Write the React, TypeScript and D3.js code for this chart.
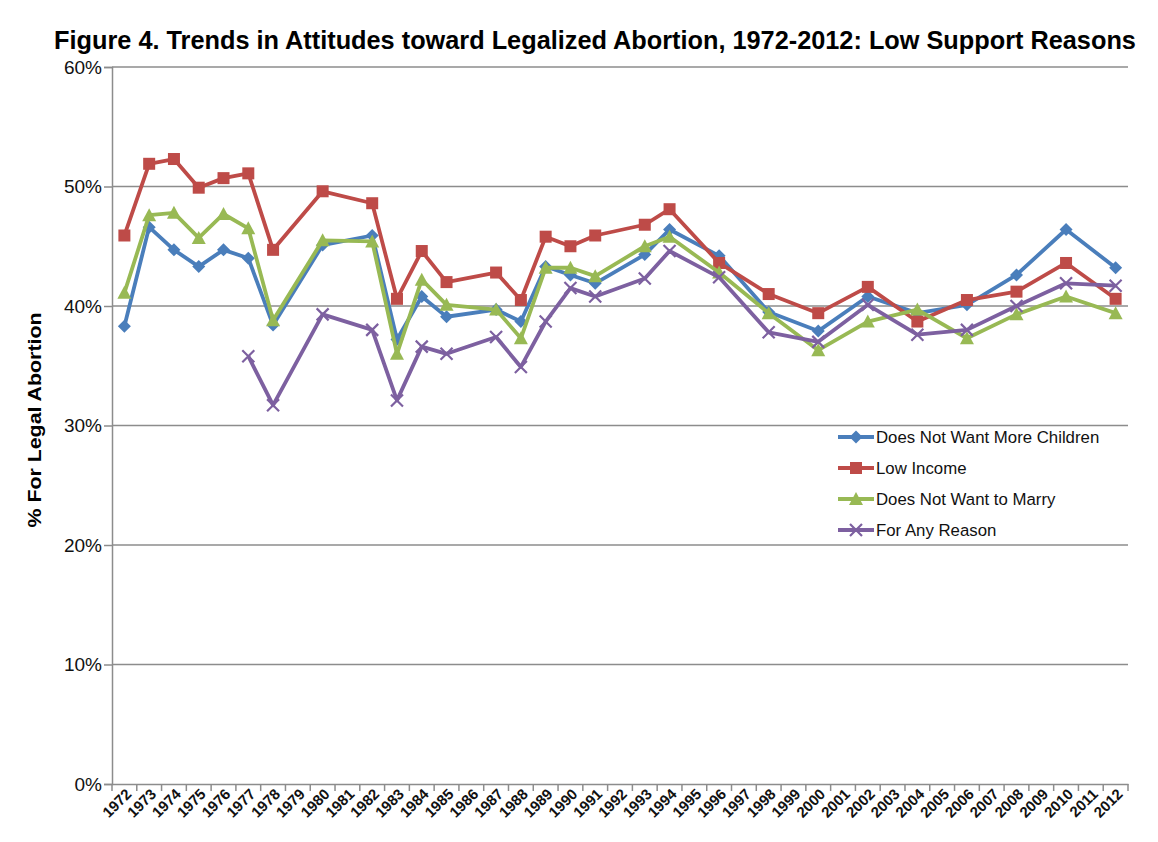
import React, { useEffect, useRef } from 'react';
import * as d3 from 'd3';

// categories on the x axis (every year, data only on survey years)
const years: number[] = d3.range(1972, 2013);

const surveyYears = [
  1972, 1973, 1974, 1975, 1976, 1977, 1978, 1980, 1982, 1983, 1984, 1985, 1987, 1988, 1989,
  1990, 1991, 1993, 1994, 1996, 1998, 2000, 2002, 2004, 2006, 2008, 2010, 2012,
];

const moreChildren = [
  38.3, 46.6, 44.7, 43.3, 44.7, 44.0, 38.4, 45.1, 45.9, 37.2, 40.8, 39.1, 39.7, 38.7, 43.3,
  42.6, 41.9, 44.3, 46.4, 44.2, 39.5, 37.9, 40.8, 39.4, 40.1, 42.6, 46.4, 43.2,
];
const lowIncome = [
  45.9, 51.9, 52.3, 49.9, 50.7, 51.1, 44.7, 49.6, 48.6, 40.6, 44.6, 42.0, 42.8, 40.5, 45.8,
  45.0, 45.9, 46.8, 48.1, 43.6, 41.0, 39.4, 41.6, 38.7, 40.5, 41.2, 43.6, 40.6,
];
const notMarry = [
  41.1, 47.6, 47.8, 45.7, 47.7, 46.5, 38.8, 45.5, 45.4, 36.0, 42.2, 40.1, 39.7, 37.3, 43.2,
  43.2, 42.5, 45.0, 45.8, 42.8, 39.4, 36.3, 38.7, 39.7, 37.3, 39.3, 40.8, 39.4,
];
const anyReason = [
  null, null, null, null, null, 35.8, 31.7, 39.3, 38.0, 32.1, 36.6, 36.0, 37.4, 34.9, 38.7,
  41.5, 40.8, 42.3, 44.6, 42.4, 37.8, 37.0, 40.1, 37.6, 38.0, 40.0, 41.9, 41.7,
];

const yTicks = [0, 10, 20, 30, 40, 50, 60];

const seriesNames = ['Does Not Want More Children', 'Low Income', 'Does Not Want to Marry', 'For Any Reason'];
const seriesValues = [moreChildren, lowIncome, notMarry, anyReason];
const seriesColors = ['#4a7ebb', '#be4b48', '#98b954', '#7d60a0'];
const seriesMarkers = ['diamond', 'square', 'triangle', 'x'];

const W = 1158;
const H = 842;
const margin = { left: 112, right: 30, top: 67, bottom: 58 };
const FONT = 'Liberation Sans, Arial, sans-serif';

function drawMarker(g: any, type: string, color: string) {
  if (type === 'diamond') {
    g.append('path').attr('d', 'M0,-6.5L6.5,0L0,6.5L-6.5,0Z').attr('fill', color);
  } else if (type === 'square') {
    g.append('rect').attr('x', -6).attr('y', -6).attr('width', 12).attr('height', 12).attr('fill', color);
  } else if (type === 'triangle') {
    g.append('path').attr('d', 'M0,-7L7,6L-7,6Z').attr('fill', color);
  } else {
    g.append('path')
      .attr('d', 'M-6,-6L6,6M-6,6L6,-6')
      .attr('stroke', color)
      .attr('stroke-width', 2.2)
      .attr('fill', 'none');
  }
}

function App() {
  const svgRef = useRef<SVGSVGElement>(null);

  useEffect(() => {
    const svg = d3.select(svgRef.current);
    svg.selectAll('*').remove();

    const x = d3
      .scaleBand<string>()
      .domain(years.map(String))
      .range([margin.left, W - margin.right])
      .padding(0);
    const y = d3
      .scaleLinear()
      .domain([0, 60])
      .range([H - margin.bottom, margin.top]);
    const cx = (yr: number) => (x(String(yr)) as number) + x.bandwidth() / 2;

    // title
    svg
      .append('text')
      .attr('x', 595)
      .attr('y', 49)
      .attr('text-anchor', 'middle')
      .attr('font-family', FONT)
      .attr('font-weight', 'bold')
      .attr('font-size', 25.3)
      .text('Figure 4. Trends in Attitudes toward Legalized Abortion, 1972-2012: Low Support Reasons');

    // gridlines
    svg
      .append('g')
      .selectAll('line')
      .data(yTicks.filter((t) => t > 0))
      .join('line')
      .attr('x1', margin.left)
      .attr('x2', W - margin.right)
      .attr('y1', (d) => y(d))
      .attr('y2', (d) => y(d))
      .attr('stroke', '#8c8c8c')
      .attr('stroke-width', 1.5);

    // y axis
    const yAxis = svg
      .append('g')
      .attr('transform', `translate(${margin.left},0)`)
      .call(d3.axisLeft(y).tickValues(yTicks).tickSize(8).tickPadding(2).tickFormat((d) => `${d}%`));
    yAxis.select('.domain').attr('stroke', '#8c8c8c').attr('stroke-width', 1.5);
    yAxis.selectAll('.tick line').attr('stroke', '#8c8c8c').attr('stroke-width', 1.5);
    yAxis
      .selectAll('text')
      .attr('font-family', FONT)
      .attr('font-size', 19)
      .attr('fill', '#111');

    // x axis
    const xAxis = svg
      .append('g')
      .attr('transform', `translate(0,${H - margin.bottom})`)
      .call(d3.axisBottom(x).tickSize(0).tickSizeOuter(0).tickPadding(0));
    xAxis.select('.domain').attr('stroke', '#8c8c8c').attr('stroke-width', 1.5);
    xAxis.selectAll('.tick line').remove();
    xAxis
      .selectAll('.tick text')
      .attr('font-family', FONT)
      .attr('font-weight', 'bold')
      .attr('font-size', 15)
      .attr('fill', '#111')
      .attr('text-anchor', 'end')
      .attr('dy', 0)
      .attr('transform', 'translate(8,11) rotate(-45)');
    xAxis
      .append('g')
      .selectAll('line')
      .data(years.map(String).concat(['end']))
      .join('line')
      .attr('x1', (d) => (d === 'end' ? W - margin.right : (x(d) as number)))
      .attr('x2', (d) => (d === 'end' ? W - margin.right : (x(d) as number)))
      .attr('y1', 0)
      .attr('y2', 7)
      .attr('stroke', '#8c8c8c')
      .attr('stroke-width', 1.5);

    // y axis title
    svg
      .append('text')
      .attr('transform', `translate(41,${420}) rotate(-90)`)
      .attr('text-anchor', 'middle')
      .attr('font-family', FONT)
      .attr('font-weight', 'bold')
      .attr('font-size', 19)
      .attr('textLength', 215)
      .attr('lengthAdjust', 'spacingAndGlyphs')
      .text('% For Legal Abortion');

    // series
    const line = d3
      .line<any>()
      .defined((d) => d.v != null)
      .x((d) => cx(d.year))
      .y((d) => y(d.v));

    seriesValues.forEach((vals, i) => {
      const pts = surveyYears.map((yr, j) => ({ year: yr, v: vals[j] })).filter((d) => d.v != null);
      const g = svg.append('g');
      g.append('path')
        .datum(pts)
        .attr('d', line)
        .attr('fill', 'none')
        .attr('stroke', seriesColors[i])
        .attr('stroke-width', 3.8)
        .attr('stroke-linejoin', 'round');
      g.selectAll('g.pt')
        .data(pts)
        .join('g')
        .attr('class', 'pt')
        .attr('transform', (d) => `translate(${cx(d.year)},${y(d.v as number)})`)
        .each(function () {
          drawMarker(d3.select(this), seriesMarkers[i], seriesColors[i]);
        });
    });

    // legend
    const legend = svg.append('g').attr('transform', 'translate(838,437)');
    seriesNames.forEach((name, i) => {
      const item = legend.append('g').attr('transform', `translate(0,${i * 31})`);
      item
        .append('line')
        .attr('x1', 0)
        .attr('x2', 36)
        .attr('stroke', seriesColors[i])
        .attr('stroke-width', 3.8);
      const m = item.append('g').attr('transform', 'translate(18,0)');
      drawMarker(m, seriesMarkers[i], seriesColors[i]);
      item
        .append('text')
        .attr('x', 38)
        .attr('y', 6)
        .attr('font-family', FONT)
        .attr('font-size', 16.8)
        .attr('fill', '#111')
        .text(name);
    });
  }, []);

  return (
    <div style={{ position: 'fixed', left: 0, top: 0 }}>
      <svg ref={svgRef} width={W} height={H} style={{ display: 'block', background: '#fff' }} />
    </div>
  );
}

export default App;
